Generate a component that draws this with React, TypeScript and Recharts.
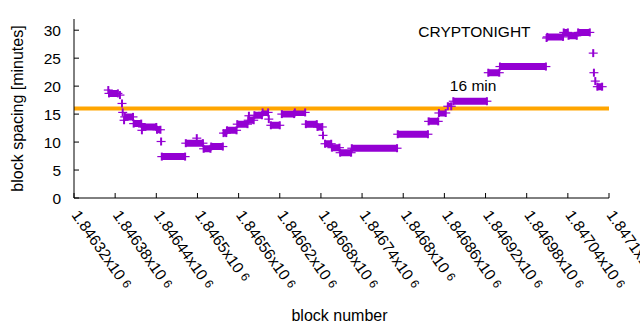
import React from 'react';
import { LineChart, Line, XAxis, YAxis, ReferenceLine, ReferenceDot } from 'recharts';

// Runs of consecutive blocks that share the same block-spacing value (minutes)
const runStart = [1846370, 1846371, 1846387, 1846390, 1846391, 1846393, 1846394, 1846407, 1846419, 1846420, 1846441, 1846447, 1846448, 1846483, 1846499, 1846509, 1846520, 1846538, 1846543, 1846558, 1846574, 1846575, 1846583, 1846595, 1846604, 1846607, 1846623, 1846642, 1846658, 1846675, 1846683, 1846686, 1846696, 1846708, 1846725, 1846792, 1846837, 1846852, 1846865, 1846873, 1846924, 1846941, 1847009, 1847010, 1847034, 1847041, 1847055, 1847077, 1847078, 1847080, 1847083];
const runEnd = [1846370, 1846384, 1846387, 1846390, 1846391, 1846393, 1846406, 1846418, 1846419, 1846440, 1846446, 1846447, 1846482, 1846508, 1846499, 1846519, 1846537, 1846542, 1846557, 1846573, 1846582, 1846575, 1846594, 1846603, 1846604, 1846620, 1846641, 1846657, 1846674, 1846682, 1846683, 1846695, 1846707, 1846724, 1846791, 1846836, 1846851, 1846862, 1846870, 1846922, 1846940, 1847008, 1847009, 1847033, 1847040, 1847053, 1847072, 1847077, 1847078, 1847080, 1847090];
const runValue = [19.3, 18.7, 18.4, 16.9, 15.3, 13.9, 14.5, 13.3, 12.1, 12.7, 12.2, 10.1, 7.4, 9.8, 10.7, 8.8, 9.2, 11.6, 12.1, 13.2, 13.9, 14.7, 14.8, 15.3, 14.1, 13.0, 15.0, 15.3, 13.2, 12.7, 11.2, 9.7, 9.0, 8.1, 8.9, 11.4, 13.7, 15.2, 16.4, 17.3, 22.4, 23.5, 28.6, 28.8, 29.6, 29.0, 29.6, 25.9, 22.4, 20.9, 19.9];

const xTicks = [1846320, 1846380, 1846440, 1846500, 1846560, 1846620, 1846680, 1846740, 1846800, 1846860, 1846920, 1846980, 1847040, 1847100];
const xTickLabels = ['1.84632', '1.84638', '1.84644', '1.8465', '1.84656', '1.84662', '1.84668', '1.84674', '1.8468', '1.84686', '1.84692', '1.84698', '1.84704', '1.8471'];
const yTicks = [0, 5, 10, 15, 20, 25, 30];
const thresholdMinutes = 16;

const PURPLE = '#9400d3';
const ORANGE = '#ffa500';
const FONT = '"Liberation Sans", Arial, sans-serif';

type Pt = { x: number; y: number | null };
const table: Pt[] = [];
runStart.forEach((s, i) => {
  table.push({ x: s, y: runValue[i] });
  if (runEnd[i] !== s) table.push({ x: runEnd[i], y: runValue[i] });
  table.push({ x: runEnd[i], y: null });
});

const PlusDot = (p: any) => {
  const { cx, cy, index } = p;
  if (cx == null || cy == null || p.value == null || Number.isNaN(cy)) return <g key={`d${index}`} />;
  return (
    <g key={`d${index}`}>
      <line x1={cx - 4.5} x2={cx + 4.5} y1={cy} y2={cy} stroke={PURPLE} strokeWidth={1.2} />
      <line x1={cx} x2={cx} y1={cy - 4} y2={cy + 4} stroke={PURPLE} strokeWidth={2} />
    </g>
  );
};

const XTickBottom = (p: any) => {
  const { x, y, index } = p;
  const tx = x - 3;
  const ty = y + 17;
  return (
    <g>
      <line x1={x} x2={x} y1={y} y2={y - 5} stroke="#000" strokeWidth={1} />
      <text x={tx} y={ty} transform={`rotate(55 ${tx} ${ty})`} fontSize={15.5} fontFamily={FONT} fill="#000" textAnchor="start">
        {xTickLabels[index]}x10
        <tspan dx={4} dy={-2} fontSize={12}>6</tspan>
      </text>
    </g>
  );
};

const XTickTop = (p: any) => {
  const { x, y } = p;
  return <line x1={x} x2={x} y1={y} y2={y + 5} stroke="#000" strokeWidth={1} />;
};

const YTickLeft = (p: any) => {
  const { x, y, payload } = p;
  return (
    <g>
      <line x1={x} x2={x + 5} y1={y} y2={y} stroke="#000" strokeWidth={1} />
      <text x={x - 13} y={y} dy="0.36em" textAnchor="end" fontSize={15.5} fontFamily={FONT} fill="#000">
        {payload.value}
      </text>
    </g>
  );
};

const YTickRight = (p: any) => {
  const { x, y } = p;
  return <line x1={x} x2={x - 5} y1={y} y2={y} stroke="#000" strokeWidth={1} />;
};

export default function App() {
  return (
    <div style={{ position: 'absolute', left: 0, top: 0, width: 640, height: 330, background: '#fff' }}>
      <LineChart width={640} height={330} data={table} margin={{ top: 19, right: 31, bottom: 0, left: 0 }}>
        <XAxis
          xAxisId="b"
          dataKey="x"
          type="number"
          domain={[1846320, 1847100]}
          ticks={xTicks}
          allowDataOverflow
          height={132}
          tickLine={false}
          tickSize={0}
          tickMargin={0}
          axisLine={{ stroke: '#000' }}
          tick={<XTickBottom />}
          interval={0}
          label={{
            content: (lp: any) => {
              const vb = lp.viewBox;
              return (
                <text x={vb.x + vb.width / 2 - 2} y={321} textAnchor="middle" fontSize={16} fontFamily={FONT} fill="#000">
                  block number
                </text>
              );
            },
          }}
        />
        <XAxis
          xAxisId="t"
          orientation="top"
          dataKey="x"
          type="number"
          domain={[1846320, 1847100]}
          ticks={xTicks}
          allowDataOverflow
          height={0}
          tickLine={false}
          tickSize={0}
          tickMargin={0}
          axisLine={{ stroke: '#000' }}
          tick={<XTickTop />}
          interval={0}
        />
        <YAxis
          yAxisId="l"
          type="number"
          domain={[0, 32]}
          ticks={yTicks}
          width={74}
          tickLine={false}
          tickSize={0}
          tickMargin={0}
          axisLine={{ stroke: '#000' }}
          tick={<YTickLeft />}
          interval={0}
          label={{
            content: (lp: any) => {
              const vb = lp.viewBox;
              const cx = 17;
              const cy = vb.y + vb.height / 2;
              return (
                <text x={cx} y={cy} dy="0.36em" transform={`rotate(-90 ${cx} ${cy})`} textAnchor="middle" fontSize={16} fontFamily={FONT} fill="#000">
                  block spacing [minutes]
                </text>
              );
            },
          }}
        />
        <YAxis
          yAxisId="r"
          orientation="right"
          type="number"
          domain={[0, 32]}
          ticks={yTicks}
          width={0}
          tickLine={false}
          tickSize={0}
          tickMargin={0}
          axisLine={{ stroke: '#000' }}
          tick={<YTickRight />}
          interval={0}
        />
        <Line
          xAxisId="b"
          yAxisId="l"
          dataKey="y"
          stroke={PURPLE}
          strokeWidth={7}
          strokeLinecap="butt"
          connectNulls={false}
          dot={PlusDot}
          activeDot={false}
          isAnimationActive={false}
        />
        <ReferenceLine xAxisId="b" yAxisId="l" y={thresholdMinutes} stroke={ORANGE} strokeWidth={4} />
        <ReferenceDot
          xAxisId="b"
          yAxisId="l"
          x={1846868}
          y={19.1}
          r={0}
          shape={(sp: any) => (
            <text x={sp.cx} y={sp.cy} fontSize={15.5} fontFamily={FONT} fill="#000">16 min</text>
          )}
        />
        <ReferenceDot
          xAxisId="b"
          yAxisId="l"
          x={1846822}
          y={28.75}
          r={0}
          shape={(sp: any) => (
            <text x={sp.cx} y={sp.cy} fontSize={15.5} fontFamily={FONT} fill="#000">CRYPTONIGHT</text>
          )}
        />
      </LineChart>
    </div>
  );
}
